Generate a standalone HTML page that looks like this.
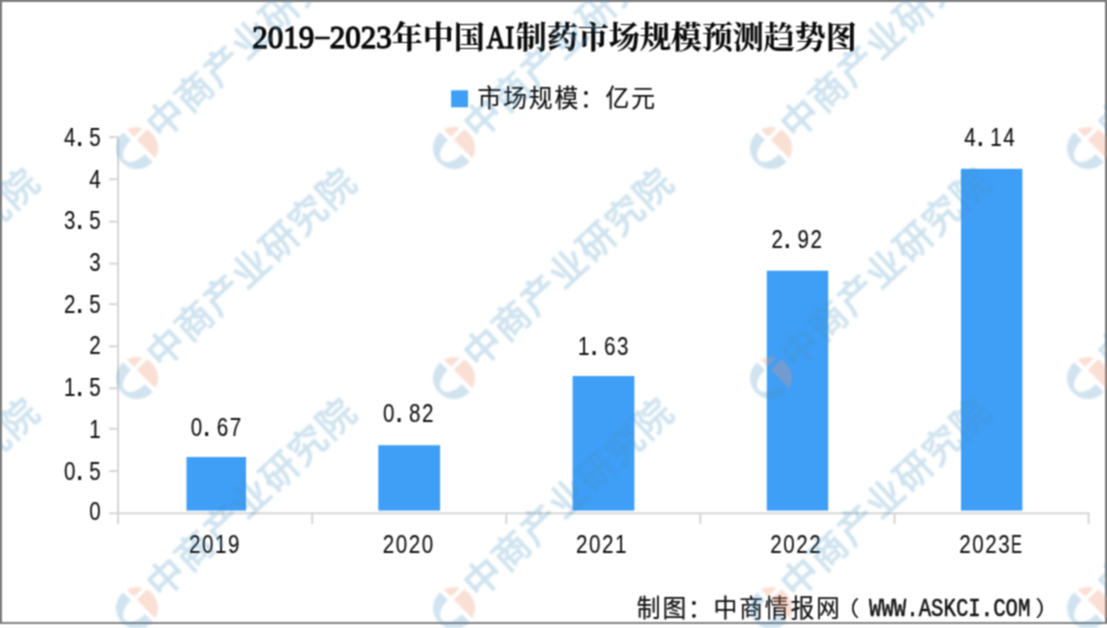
<!DOCTYPE html>
<html lang="zh-CN"><head><meta charset="utf-8">
<title>2019-2023年中国AI制药市场规模预测趋势图</title>
<style>
html,body{margin:0;padding:0;background:#fff;}
body{width:1107px;height:628px;overflow:hidden;position:relative;font-family:"Liberation Serif", "Noto Serif CJK SC", serif;color:#111;}
#chart{position:absolute;left:0;top:0;width:1107px;height:628px;overflow:hidden;background:#fff;}
.abs{position:absolute;white-space:nowrap;line-height:1;}
.t{font-size:23.8px;letter-spacing:1.8px;font-family:"Liberation Mono", "Noto Sans CJK SC", sans-serif;-webkit-text-stroke:0.2px #111;}
.cj{display:inline-block;transform:scaleY(1.03);transform-origin:50% 50%;}
.mono{font-family:"Liberation Mono", "Noto Sans Mono CJK SC", monospace;font-size:21px;letter-spacing:0;display:inline-block;transform:scaleY(1.34);transform-origin:50% 50%;}
.num{font-family:"Liberation Sans", "Noto Sans CJK SC", sans-serif;font-size:20.6px;letter-spacing:1.15px;margin-right:-1.15px;display:inline-block;transform:scaleY(1.22);transform-origin:50% 50%;-webkit-text-stroke:0.12px #111;}
.num .dot{display:inline-block;width:12.6px;text-align:left;text-indent:0.1px;font-weight:bold;letter-spacing:0;}
.num .al{display:inline-block;transform:scaleX(0.8);transform-origin:0 50%;margin-right:-3.2px;}
.xl .num,.dl .num{letter-spacing:1.55px;margin-right:-1.55px;}
.xl .dot,.dl .dot{width:13px;}
.yl .num{letter-spacing:1.2px;margin-right:-1.2px;}
.yl .dot{width:12.65px;}
#foot .pl{position:relative;left:-6px;}
#foot .pr{position:relative;left:4.5px;}
#foot .pl,#foot .pr{display:inline-block;transform:scaleY(0.86);}
#foot .mono{-webkit-text-stroke:0.45px #111;transform:scaleY(1.22);font-size:20.7px;letter-spacing:0;position:relative;top:-2.1px;margin:0 0.6px 0 1.8px;}
.bar{position:absolute;background:#3f9ef6;}
.ln{position:absolute;background:#d6d6d6;}
.bd{position:absolute;background:#7d7d7d;}
#title{font-weight:700;font-size:31px;-webkit-text-stroke:0.2px #0a0a0a;color:#0a0a0a;}
#title .lat{font-weight:normal;-webkit-text-stroke:1.3px #0a0a0a;}
#title .hy{display:inline-block;width:15.5px;text-align:center;}
#title .hy i{display:inline-block;font-style:normal;-webkit-text-stroke:0.4px #0a0a0a;transform:translateY(-2.6px) scale(1.75,0.9);}
#title .ai{display:inline-block;width:31px;text-align:center;}
#title .ai i{display:inline-block;font-style:normal;transform:scaleX(0.84);transform-origin:50% 50%;margin:0 -3px;}
#wm{position:absolute;left:0;top:0;width:1107px;height:628px;overflow:hidden;pointer-events:none;}
.wmt{position:absolute;white-space:nowrap;line-height:1;font-family:"Liberation Sans", "Noto Sans CJK SC", sans-serif;font-weight:400;font-size:37px;letter-spacing:1.75px;color:rgb(72,148,192);-webkit-text-stroke:1.2px rgb(72,148,192);opacity:0.26;transform-origin:0 50%;}
.soft{position:absolute;left:0;top:0;width:1107px;height:628px;filter:url(#soften);}

</style></head><body>
<svg width="0" height="0" style="position:absolute" aria-hidden="true"><defs><filter id="soften" x="0" y="0" width="100%" height="100%" color-interpolation-filters="sRGB"><feConvolveMatrix order="3" kernelMatrix="1 2 1 2 4 2 1 2 1" divisor="16" edgeMode="duplicate" preserveAlpha="false"/></filter></defs></svg>
<div id="chart">
<div class="soft">
<div class="bd" style="left:-6px;top:-6px;width:1119px;height:8px"></div>
<div class="bd" style="left:-6px;top:-6px;width:8px;height:630px"></div>
<div class="bd" style="left:1105px;top:-6px;width:8px;height:630px"></div>
<div class="bd" style="left:-6px;top:622px;width:1119px;height:2px;background:#828282"></div>
<svg style="position:absolute;left:0;top:0" width="1107" height="628" viewBox="0 0 1107 628" fill="#d6d6d6">
<rect x="117.10" y="136.10" width="2.00" height="378.20"/>
<rect x="109.20" y="512.30" width="980.40" height="2.00"/>
<rect x="109.20" y="470.10" width="8.90" height="2.00"/>
<rect x="109.20" y="427.70" width="8.90" height="2.00"/>
<rect x="109.20" y="387.40" width="8.90" height="2.00"/>
<rect x="109.20" y="345.40" width="8.90" height="2.00"/>
<rect x="109.20" y="303.10" width="8.90" height="2.00"/>
<rect x="109.20" y="262.70" width="8.90" height="2.00"/>
<rect x="109.20" y="220.60" width="8.90" height="2.00"/>
<rect x="109.20" y="178.30" width="8.90" height="2.00"/>
<rect x="109.20" y="136.10" width="8.90" height="2.00"/>
<rect x="311.20" y="513.30" width="2.00" height="10.60"/>
<rect x="505.30" y="513.30" width="2.00" height="10.60"/>
<rect x="699.40" y="513.30" width="2.00" height="10.60"/>
<rect x="893.50" y="513.30" width="2.00" height="10.60"/>
<rect x="1087.60" y="513.30" width="2.00" height="10.60"/>
<rect x="117.10" y="513.30" width="2.00" height="10.60"/>
</svg>
<svg style="position:absolute;left:0;top:0" width="1107" height="628" viewBox="0 0 1107 628" fill="#3f9ef6">
<rect x="186.50" y="457.00" width="59.50" height="53.60"/>
<rect x="378.30" y="445.20" width="61.80" height="65.40"/>
<rect x="572.60" y="376.00" width="61.80" height="134.60"/>
<rect x="766.80" y="270.70" width="61.40" height="239.90"/>
<rect x="961.00" y="168.80" width="61.40" height="341.80"/>
<rect x="451.1" y="90.3" width="16.9" height="17"/>
</svg>
<div class="abs" id="title" style="left:252.2px;top:22.3px"><span class="lat">2019<span class="hy"><i>-</i></span>2023</span>年中国<span class="ai lat"><i>AI</i></span>制药市场规模预测趋势图</div>
<div class="abs t" id="legend" style="left:477.6px;top:89.4px"><span class="cj">市场规模：亿元</span></div>
<div class="abs t yl" style="right:1006.2px;letter-spacing:0;top:501.10px"><span class="num">0</span></div>
<div class="abs t yl" style="right:1006.2px;letter-spacing:0;top:460.90px"><span class="num">0<span class="dot">.</span>5</span></div>
<div class="abs t yl" style="right:1006.2px;letter-spacing:0;top:418.70px"><span class="num">1</span></div>
<div class="abs t yl" style="right:1006.2px;letter-spacing:0;top:376.60px"><span class="num">1<span class="dot">.</span>5</span></div>
<div class="abs t yl" style="right:1006.2px;letter-spacing:0;top:335.00px"><span class="num">2</span></div>
<div class="abs t yl" style="right:1006.2px;letter-spacing:0;top:293.90px"><span class="num">2<span class="dot">.</span>5</span></div>
<div class="abs t yl" style="right:1006.2px;letter-spacing:0;top:252.00px"><span class="num">3</span></div>
<div class="abs t yl" style="right:1006.2px;letter-spacing:0;top:209.50px"><span class="num">3<span class="dot">.</span>5</span></div>
<div class="abs t yl" style="right:1006.2px;letter-spacing:0;top:169.40px"><span class="num">4</span></div>
<div class="abs t yl" style="right:1006.2px;letter-spacing:0;top:126.80px"><span class="num">4<span class="dot">.</span>5</span></div>
<div class="abs t xl" style="left:114.3px;width:200px;text-align:center;letter-spacing:0;top:533.9px"><span class="num">2019</span></div>
<div class="abs t dl" style="left:115.9px;width:200px;text-align:center;letter-spacing:0;top:417.2px"><span class="num">0<span class="dot">.</span>67</span></div>
<div class="abs t xl" style="left:308.0px;width:200px;text-align:center;letter-spacing:0;top:533.9px"><span class="num">2020</span></div>
<div class="abs t dl" style="left:308.3px;width:200px;text-align:center;letter-spacing:0;top:403.1px"><span class="num">0<span class="dot">.</span>82</span></div>
<div class="abs t xl" style="left:501.3px;width:200px;text-align:center;letter-spacing:0;top:533.9px"><span class="num">2021</span></div>
<div class="abs t dl" style="left:503.3px;width:200px;text-align:center;letter-spacing:0;top:336.2px"><span class="num">1<span class="dot">.</span>63</span></div>
<div class="abs t xl" style="left:695.5px;width:200px;text-align:center;letter-spacing:0;top:533.9px"><span class="num">2022</span></div>
<div class="abs t dl" style="left:696.7px;width:200px;text-align:center;letter-spacing:0;top:228.8px"><span class="num">2<span class="dot">.</span>92</span></div>
<div class="abs t xl" style="left:890.5px;width:200px;text-align:center;letter-spacing:0;top:533.9px"><span class="num">2023<span class="al">E</span></span></div>
<div class="abs t dl" style="left:889.6px;width:200px;text-align:center;letter-spacing:0;top:126.8px"><span class="num">4<span class="dot">.</span>14</span></div>
<div class="abs t" id="foot" style="left:636.8px;top:599.0px"><span class="cj">制图：中商情报网<span class="pl">（</span></span><span class="mono">WWW.ASKCI.COM</span><span class="cj"><span class="pr">）</span></span></div>
</div>
<div id="wm" style="filter:blur(1.1px)">
<div class="wmt" style="left:-163.8px;top:-117.0px;transform:rotate(-43.0deg)">中商产业研究院</div>
<div class="wmt" style="left:153.1px;top:-117.0px;transform:rotate(-43.0deg)">中商产业研究院</div>
<div class="wmt" style="left:470.0px;top:-117.0px;transform:rotate(-43.0deg)">中商产业研究院</div>
<div class="wmt" style="left:786.9px;top:-117.0px;transform:rotate(-43.0deg)">中商产业研究院</div>
<div class="wmt" style="left:1103.8px;top:-117.0px;transform:rotate(-43.0deg)">中商产业研究院</div>
<div class="wmt" style="left:-163.8px;top:112.6px;transform:rotate(-43.0deg)">中商产业研究院</div>
<svg class="lg" style="position:absolute;left:113.2px;top:124.3px" width="48" height="48" viewBox="-24 -24 48 48">
<defs><clipPath id="c7a"><path d="M-40 -41.8 L40 38.2 L-40 40 Z"/></clipPath>
<clipPath id="c7b"><path d="M-3 -11.3 L-33 -41.3 L27 -41.3 Z"/></clipPath>
<clipPath id="c7c"><path d="M-0.2 -8.2 L29.8 -38.2 L40 -38 L40 22 L29.8 21.8 Z"/></clipPath></defs>
<path clip-path="url(#c7a)" fill="rgba(72,148,192,0.26)" fill-rule="evenodd" d="M-21 0 A21 21 0 1 0 21 0 A21 21 0 1 0 -21 0 Z M12.1 -12.1 A17.1 9.9 -45 1 0 -12.1 12.1 A17.1 9.9 -45 1 0 12.1 -12.1 Z"/>
<circle clip-path="url(#c7b)" r="21" fill="rgba(240,150,115,0.30)"/>
<circle clip-path="url(#c7c)" r="21" fill="rgba(240,150,115,0.30)"/>
</svg>
<div class="wmt" style="left:153.1px;top:112.6px;transform:rotate(-43.0deg)">中商产业研究院</div>
<svg class="lg" style="position:absolute;left:430.1px;top:124.3px" width="48" height="48" viewBox="-24 -24 48 48">
<defs><clipPath id="c8a"><path d="M-40 -41.8 L40 38.2 L-40 40 Z"/></clipPath>
<clipPath id="c8b"><path d="M-3 -11.3 L-33 -41.3 L27 -41.3 Z"/></clipPath>
<clipPath id="c8c"><path d="M-0.2 -8.2 L29.8 -38.2 L40 -38 L40 22 L29.8 21.8 Z"/></clipPath></defs>
<path clip-path="url(#c8a)" fill="rgba(72,148,192,0.26)" fill-rule="evenodd" d="M-21 0 A21 21 0 1 0 21 0 A21 21 0 1 0 -21 0 Z M12.1 -12.1 A17.1 9.9 -45 1 0 -12.1 12.1 A17.1 9.9 -45 1 0 12.1 -12.1 Z"/>
<circle clip-path="url(#c8b)" r="21" fill="rgba(240,150,115,0.30)"/>
<circle clip-path="url(#c8c)" r="21" fill="rgba(240,150,115,0.30)"/>
</svg>
<div class="wmt" style="left:470.0px;top:112.6px;transform:rotate(-43.0deg)">中商产业研究院</div>
<svg class="lg" style="position:absolute;left:747.0px;top:124.3px" width="48" height="48" viewBox="-24 -24 48 48">
<defs><clipPath id="c9a"><path d="M-40 -41.8 L40 38.2 L-40 40 Z"/></clipPath>
<clipPath id="c9b"><path d="M-3 -11.3 L-33 -41.3 L27 -41.3 Z"/></clipPath>
<clipPath id="c9c"><path d="M-0.2 -8.2 L29.8 -38.2 L40 -38 L40 22 L29.8 21.8 Z"/></clipPath></defs>
<path clip-path="url(#c9a)" fill="rgba(72,148,192,0.26)" fill-rule="evenodd" d="M-21 0 A21 21 0 1 0 21 0 A21 21 0 1 0 -21 0 Z M12.1 -12.1 A17.1 9.9 -45 1 0 -12.1 12.1 A17.1 9.9 -45 1 0 12.1 -12.1 Z"/>
<circle clip-path="url(#c9b)" r="21" fill="rgba(240,150,115,0.30)"/>
<circle clip-path="url(#c9c)" r="21" fill="rgba(240,150,115,0.30)"/>
</svg>
<div class="wmt" style="left:786.9px;top:112.6px;transform:rotate(-43.0deg)">中商产业研究院</div>
<svg class="lg" style="position:absolute;left:1063.9px;top:124.3px" width="48" height="48" viewBox="-24 -24 48 48">
<defs><clipPath id="c10a"><path d="M-40 -41.8 L40 38.2 L-40 40 Z"/></clipPath>
<clipPath id="c10b"><path d="M-3 -11.3 L-33 -41.3 L27 -41.3 Z"/></clipPath>
<clipPath id="c10c"><path d="M-0.2 -8.2 L29.8 -38.2 L40 -38 L40 22 L29.8 21.8 Z"/></clipPath></defs>
<path clip-path="url(#c10a)" fill="rgba(72,148,192,0.26)" fill-rule="evenodd" d="M-21 0 A21 21 0 1 0 21 0 A21 21 0 1 0 -21 0 Z M12.1 -12.1 A17.1 9.9 -45 1 0 -12.1 12.1 A17.1 9.9 -45 1 0 12.1 -12.1 Z"/>
<circle clip-path="url(#c10b)" r="21" fill="rgba(240,150,115,0.30)"/>
<circle clip-path="url(#c10c)" r="21" fill="rgba(240,150,115,0.30)"/>
</svg>
<div class="wmt" style="left:1103.8px;top:112.6px;transform:rotate(-43.0deg)">中商产业研究院</div>
<div class="wmt" style="left:-163.8px;top:342.2px;transform:rotate(-43.0deg)">中商产业研究院</div>
<svg class="lg" style="position:absolute;left:113.2px;top:353.9px" width="48" height="48" viewBox="-24 -24 48 48">
<defs><clipPath id="c12a"><path d="M-40 -41.8 L40 38.2 L-40 40 Z"/></clipPath>
<clipPath id="c12b"><path d="M-3 -11.3 L-33 -41.3 L27 -41.3 Z"/></clipPath>
<clipPath id="c12c"><path d="M-0.2 -8.2 L29.8 -38.2 L40 -38 L40 22 L29.8 21.8 Z"/></clipPath></defs>
<path clip-path="url(#c12a)" fill="rgba(72,148,192,0.26)" fill-rule="evenodd" d="M-21 0 A21 21 0 1 0 21 0 A21 21 0 1 0 -21 0 Z M12.1 -12.1 A17.1 9.9 -45 1 0 -12.1 12.1 A17.1 9.9 -45 1 0 12.1 -12.1 Z"/>
<circle clip-path="url(#c12b)" r="21" fill="rgba(240,150,115,0.30)"/>
<circle clip-path="url(#c12c)" r="21" fill="rgba(240,150,115,0.30)"/>
</svg>
<div class="wmt" style="left:153.1px;top:342.2px;transform:rotate(-43.0deg)">中商产业研究院</div>
<svg class="lg" style="position:absolute;left:430.1px;top:353.9px" width="48" height="48" viewBox="-24 -24 48 48">
<defs><clipPath id="c13a"><path d="M-40 -41.8 L40 38.2 L-40 40 Z"/></clipPath>
<clipPath id="c13b"><path d="M-3 -11.3 L-33 -41.3 L27 -41.3 Z"/></clipPath>
<clipPath id="c13c"><path d="M-0.2 -8.2 L29.8 -38.2 L40 -38 L40 22 L29.8 21.8 Z"/></clipPath></defs>
<path clip-path="url(#c13a)" fill="rgba(72,148,192,0.26)" fill-rule="evenodd" d="M-21 0 A21 21 0 1 0 21 0 A21 21 0 1 0 -21 0 Z M12.1 -12.1 A17.1 9.9 -45 1 0 -12.1 12.1 A17.1 9.9 -45 1 0 12.1 -12.1 Z"/>
<circle clip-path="url(#c13b)" r="21" fill="rgba(240,150,115,0.30)"/>
<circle clip-path="url(#c13c)" r="21" fill="rgba(240,150,115,0.30)"/>
</svg>
<div class="wmt" style="left:470.0px;top:342.2px;transform:rotate(-43.0deg)">中商产业研究院</div>
<svg class="lg" style="position:absolute;left:747.0px;top:353.9px" width="48" height="48" viewBox="-24 -24 48 48">
<defs><clipPath id="c14a"><path d="M-40 -41.8 L40 38.2 L-40 40 Z"/></clipPath>
<clipPath id="c14b"><path d="M-3 -11.3 L-33 -41.3 L27 -41.3 Z"/></clipPath>
<clipPath id="c14c"><path d="M-0.2 -8.2 L29.8 -38.2 L40 -38 L40 22 L29.8 21.8 Z"/></clipPath></defs>
<path clip-path="url(#c14a)" fill="rgba(72,148,192,0.26)" fill-rule="evenodd" d="M-21 0 A21 21 0 1 0 21 0 A21 21 0 1 0 -21 0 Z M12.1 -12.1 A17.1 9.9 -45 1 0 -12.1 12.1 A17.1 9.9 -45 1 0 12.1 -12.1 Z"/>
<circle clip-path="url(#c14b)" r="21" fill="rgba(240,150,115,0.30)"/>
<circle clip-path="url(#c14c)" r="21" fill="rgba(240,150,115,0.30)"/>
</svg>
<div class="wmt" style="left:786.9px;top:342.2px;transform:rotate(-43.0deg)">中商产业研究院</div>
<svg class="lg" style="position:absolute;left:1063.9px;top:353.9px" width="48" height="48" viewBox="-24 -24 48 48">
<defs><clipPath id="c15a"><path d="M-40 -41.8 L40 38.2 L-40 40 Z"/></clipPath>
<clipPath id="c15b"><path d="M-3 -11.3 L-33 -41.3 L27 -41.3 Z"/></clipPath>
<clipPath id="c15c"><path d="M-0.2 -8.2 L29.8 -38.2 L40 -38 L40 22 L29.8 21.8 Z"/></clipPath></defs>
<path clip-path="url(#c15a)" fill="rgba(72,148,192,0.26)" fill-rule="evenodd" d="M-21 0 A21 21 0 1 0 21 0 A21 21 0 1 0 -21 0 Z M12.1 -12.1 A17.1 9.9 -45 1 0 -12.1 12.1 A17.1 9.9 -45 1 0 12.1 -12.1 Z"/>
<circle clip-path="url(#c15b)" r="21" fill="rgba(240,150,115,0.30)"/>
<circle clip-path="url(#c15c)" r="21" fill="rgba(240,150,115,0.30)"/>
</svg>
<div class="wmt" style="left:1103.8px;top:342.2px;transform:rotate(-43.0deg)">中商产业研究院</div>
<div class="wmt" style="left:-163.8px;top:571.8px;transform:rotate(-43.0deg)">中商产业研究院</div>
<svg class="lg" style="position:absolute;left:113.2px;top:583.5px" width="48" height="48" viewBox="-24 -24 48 48">
<defs><clipPath id="c17a"><path d="M-40 -41.8 L40 38.2 L-40 40 Z"/></clipPath>
<clipPath id="c17b"><path d="M-3 -11.3 L-33 -41.3 L27 -41.3 Z"/></clipPath>
<clipPath id="c17c"><path d="M-0.2 -8.2 L29.8 -38.2 L40 -38 L40 22 L29.8 21.8 Z"/></clipPath></defs>
<path clip-path="url(#c17a)" fill="rgba(72,148,192,0.26)" fill-rule="evenodd" d="M-21 0 A21 21 0 1 0 21 0 A21 21 0 1 0 -21 0 Z M12.1 -12.1 A17.1 9.9 -45 1 0 -12.1 12.1 A17.1 9.9 -45 1 0 12.1 -12.1 Z"/>
<circle clip-path="url(#c17b)" r="21" fill="rgba(240,150,115,0.30)"/>
<circle clip-path="url(#c17c)" r="21" fill="rgba(240,150,115,0.30)"/>
</svg>
<div class="wmt" style="left:153.1px;top:571.8px;transform:rotate(-43.0deg)">中商产业研究院</div>
<svg class="lg" style="position:absolute;left:430.1px;top:583.5px" width="48" height="48" viewBox="-24 -24 48 48">
<defs><clipPath id="c18a"><path d="M-40 -41.8 L40 38.2 L-40 40 Z"/></clipPath>
<clipPath id="c18b"><path d="M-3 -11.3 L-33 -41.3 L27 -41.3 Z"/></clipPath>
<clipPath id="c18c"><path d="M-0.2 -8.2 L29.8 -38.2 L40 -38 L40 22 L29.8 21.8 Z"/></clipPath></defs>
<path clip-path="url(#c18a)" fill="rgba(72,148,192,0.26)" fill-rule="evenodd" d="M-21 0 A21 21 0 1 0 21 0 A21 21 0 1 0 -21 0 Z M12.1 -12.1 A17.1 9.9 -45 1 0 -12.1 12.1 A17.1 9.9 -45 1 0 12.1 -12.1 Z"/>
<circle clip-path="url(#c18b)" r="21" fill="rgba(240,150,115,0.30)"/>
<circle clip-path="url(#c18c)" r="21" fill="rgba(240,150,115,0.30)"/>
</svg>
<div class="wmt" style="left:470.0px;top:571.8px;transform:rotate(-43.0deg)">中商产业研究院</div>
<svg class="lg" style="position:absolute;left:747.0px;top:583.5px" width="48" height="48" viewBox="-24 -24 48 48">
<defs><clipPath id="c19a"><path d="M-40 -41.8 L40 38.2 L-40 40 Z"/></clipPath>
<clipPath id="c19b"><path d="M-3 -11.3 L-33 -41.3 L27 -41.3 Z"/></clipPath>
<clipPath id="c19c"><path d="M-0.2 -8.2 L29.8 -38.2 L40 -38 L40 22 L29.8 21.8 Z"/></clipPath></defs>
<path clip-path="url(#c19a)" fill="rgba(72,148,192,0.26)" fill-rule="evenodd" d="M-21 0 A21 21 0 1 0 21 0 A21 21 0 1 0 -21 0 Z M12.1 -12.1 A17.1 9.9 -45 1 0 -12.1 12.1 A17.1 9.9 -45 1 0 12.1 -12.1 Z"/>
<circle clip-path="url(#c19b)" r="21" fill="rgba(240,150,115,0.30)"/>
<circle clip-path="url(#c19c)" r="21" fill="rgba(240,150,115,0.30)"/>
</svg>
<div class="wmt" style="left:786.9px;top:571.8px;transform:rotate(-43.0deg)">中商产业研究院</div>
<svg class="lg" style="position:absolute;left:1063.9px;top:583.5px" width="48" height="48" viewBox="-24 -24 48 48">
<defs><clipPath id="c20a"><path d="M-40 -41.8 L40 38.2 L-40 40 Z"/></clipPath>
<clipPath id="c20b"><path d="M-3 -11.3 L-33 -41.3 L27 -41.3 Z"/></clipPath>
<clipPath id="c20c"><path d="M-0.2 -8.2 L29.8 -38.2 L40 -38 L40 22 L29.8 21.8 Z"/></clipPath></defs>
<path clip-path="url(#c20a)" fill="rgba(72,148,192,0.26)" fill-rule="evenodd" d="M-21 0 A21 21 0 1 0 21 0 A21 21 0 1 0 -21 0 Z M12.1 -12.1 A17.1 9.9 -45 1 0 -12.1 12.1 A17.1 9.9 -45 1 0 12.1 -12.1 Z"/>
<circle clip-path="url(#c20b)" r="21" fill="rgba(240,150,115,0.30)"/>
<circle clip-path="url(#c20c)" r="21" fill="rgba(240,150,115,0.30)"/>
</svg>
<div class="wmt" style="left:1103.8px;top:571.8px;transform:rotate(-43.0deg)">中商产业研究院</div>
</div>
</div>
</body></html>
